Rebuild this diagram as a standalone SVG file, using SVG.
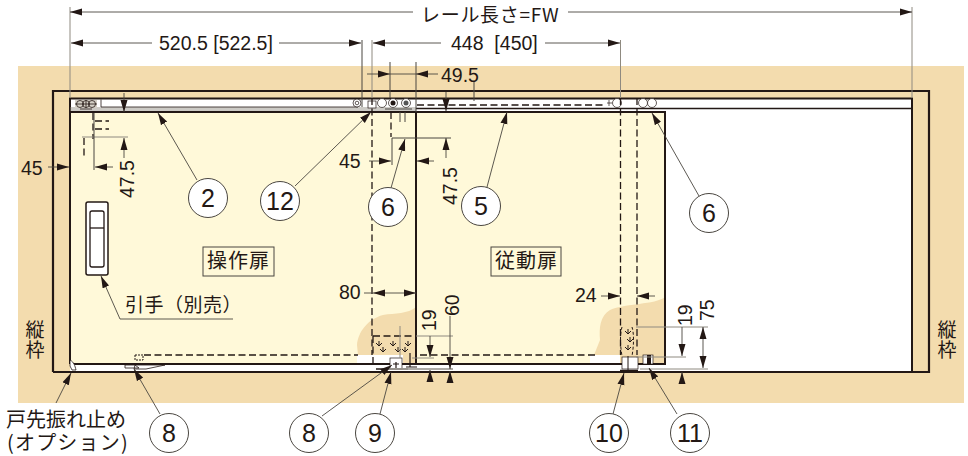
<svg xmlns="http://www.w3.org/2000/svg" width="968" height="456" viewBox="0 0 968 456">
<style>
text{font-family:"Liberation Sans","Noto Sans CJK JP",sans-serif;fill:#231815}
.t{font-size:19.500px}
.n{font-size:25px;text-anchor:middle}
.j{font-family:"Noto Sans CJK JP","Liberation Sans",sans-serif;font-size:20px}
.v{font-size:19px;writing-mode:vertical-rl;letter-spacing:1px}
.k{fill:none;stroke:#231815;stroke-width:2}
.d{fill:none;stroke:#231815;stroke-width:1.300;stroke-dasharray:7 3.500}
.g{fill:none;stroke:#8f8a80;stroke-width:1}
.e{fill:none;stroke:#4a4640;stroke-width:1}
.a{fill:none;stroke:#4a4640;stroke-width:.9}
.c{fill:#fff;stroke:#4a4640;stroke-width:1}
.o{fill:#fff;stroke:#231815;stroke-width:.7}
.s{fill:#f3dcae}
</style>
<defs>
<marker id="ah" markerUnits="userSpaceOnUse" markerWidth="13" markerHeight="8" refX="12" refY="4" orient="auto-start-reverse"><path d="M0 .5L12 4L0 7.500z" fill="#231815"/></marker>
</defs>
<g id="background">
<rect x="18" y="66" width="946" height="337" fill="#f3dcae"/>
<rect x="70" y="98" width="842" height="273" fill="#fff"/>
</g>
<g id="door-left">
<path d="M70 112H416V364H70z" fill="#fff9d9"/>
<path class="s" d="M416 307C408 314 395 313 383 315C368 319 358 332 357 345L358 355H416z"/>
<rect x="357" y="355" width="46" height="9" fill="#fff"/>
<rect class="s" x="403" y="355" width="13" height="9"/>
<path class="k" d="M70 364V112H416V364H70"/>
<text class="j" x="207" y="268" style="letter-spacing:1px">操作扉</text>
<rect x="203" y="247" width="71" height="29" fill="none" stroke="#4a4640" stroke-width="1"/>
</g>
<g id="door-right">
<path d="M416 112H665V364H416z" fill="#fff9d9"/>
<path class="s" d="M665 297C655 305 625 303 610 310C600 316 599 328 600 340L594 355H665z"/>
<rect x="590" y="355" width="30" height="9" fill="#fff"/>
<rect class="s" x="620" y="355" width="45" height="9"/>
<path class="k" d="M416 364V112H665V364H416"/>
<text class="j" x="495" y="268" style="letter-spacing:1px">従動扉</text>
<rect x="491" y="247" width="70" height="29" fill="none" stroke="#4a4640" stroke-width="1"/>
</g>
<g id="frame">
<path d="M53 372V91H929V372H53" fill="none" stroke="#231815" stroke-width="2.200"/>
<path d="M70 364V98.500H912V372" class="k"/>
<path d="M416 108.500H912" stroke="#231815" stroke-width="1.500" fill="none"/>
<path d="M70 108H416M70 110H416" stroke="#8f8a80" stroke-width=".9" fill="none"/>
</g>
<g id="handle">
<rect x="86" y="202" width="22" height="73" rx="2" fill="#fff" stroke="#231815" stroke-width="1.500"/>
<rect x="90" y="211" width="14" height="56" rx="2" fill="#fff" stroke="#231815" stroke-width="1.300"/>
<path d="M90 228H104" stroke="#231815" stroke-width="1.300"/>
</g>
<g id="hardware">
<rect x="75" y="100" width="22" height="8" fill="#d6d2c8"/>
<g fill="none" stroke="#231815" stroke-width=".8"><circle cx="80" cy="104" r="3.500"/><circle cx="86" cy="104" r="3.500"/><circle cx="92" cy="104" r="3.500"/><path d="M75 104H97M86 100V108M80 109H92"/></g>
<path d="M101 99.500V107H358" fill="none" stroke="#231815" stroke-width=".8"/>
<circle class="o" cx="357" cy="103" r="4"/><circle class="o" cx="357" cy="103" r="1.800"/>
<rect class="o" x="368" y="101" width="8" height="7"/>
<circle class="o" cx="382" cy="103" r="4.500"/>
<circle class="o" cx="393" cy="103" r="4.500"/><circle cx="393" cy="103" r="2.500" fill="#231815"/>
<circle class="o" cx="406" cy="103" r="4.500"/><circle cx="406" cy="103" r="2.500" fill="#555"/>
<circle class="o" cx="617" cy="103" r="4.500"/>
<circle class="o" cx="643" cy="103" r="4.500"/>
<circle class="o" cx="652" cy="103" r="4.500"/>
<path d="M607 103h5M609 100v6" stroke="#231815" stroke-width=".7"/>
<path class="d" d="M417 105H603"/>
<path class="d" stroke-dasharray="4 2" d="M93 113V139M95 121H109M95 129H109M84 138V156"/>
<path class="d" d="M391 112V137"/>
<path class="e" d="M400 112V122M405 112V122M385 109H412"/>
<path class="d" d="M372 98V355M620.500 98V355M637 98V355"/>
<path class="d" d="M144 355H358M420 355H595"/>
<path class="d" d="M373 336H416" stroke-width="1.600"/>
<path class="d" d="M373 336V365"/>
<path fill="none" stroke="#231815" stroke-width="1" d="M379 341v5m-3-3l3 3 3-3M383 347v5m-3-3l3 3 3-3M393 341v5m-3-3l3 3 3-3M398 347v5m-3-3l3 3 3-3M408 341v5m-3-3l3 3 3-3M405 347v5m-3-3l3 3 3-3"/>
<rect class="o" x="390" y="358" width="12" height="11"/>
<path d="M393 364h6M396 362v6M410 353V367H417M406 367H416" fill="none" stroke="#231815" stroke-width="1.200"/>
<path d="M376 369H408" stroke="#231815" stroke-width="1.500"/>
<path d="M385 369H453" stroke="#bbb" stroke-width="1.500"/>
<path d="M135 355h8v5h-8z" fill="none" stroke="#231815" stroke-width="1" stroke-dasharray="2 1"/>
<path d="M125 365h10l4 3h-14zM135 365H165L146 369H134z" fill="#fff" stroke="#231815" stroke-width=".8"/>
<path d="M70 366V360C74 362 75 366 76 370H72z" fill="#fff" stroke="#231815" stroke-width=".8"/>
<path fill="none" stroke="#231815" stroke-width="1" stroke-dasharray="3 2" d="M622 327C620 333 620 345 622 356M632 327C634 333 634 345 632 356"/>
<path fill="none" stroke="#231815" stroke-width="1" d="M628 329v5m-3-3l3 3 3-3M630 337v5m-3-3l3 3 3-3M628 345v5m-3-3l3 3 3-3"/>
<rect class="o" x="622" y="357" width="16" height="12"/>
<rect class="o" x="643" y="355" width="10" height="9"/>
<rect x="647" y="355" width="4" height="9" fill="#231815"/>
<path d="M628 356V372" stroke="#231815" stroke-width="1"/>
<path d="M620 370.500H638" stroke="#231815" stroke-width="1.500"/>
</g>
<g id="connectors">
<path class="g" d="M70 7V98M372 40V98M620.500 40V98M912 7V98"/>
<path class="e" d="M362 40V107M390 62V98M416 62V112"/>
<path class="a" marker-start="url(#ah)" d="M70 12H413"/>
<path class="a" marker-end="url(#ah)" d="M568 12H912"/>
<path class="a" marker-start="url(#ah)" d="M71 43H152"/>
<path class="a" marker-end="url(#ah)" d="M279 43H361"/>
<path class="a" marker-start="url(#ah)" d="M373 43H441"/>
<path class="a" marker-end="url(#ah)" d="M545 43H620"/>
<path class="a" marker-end="url(#ah)" d="M367 74H390"/>
<path class="a" d="M390 74H416"/>
<path class="a" marker-start="url(#ah)" d="M416 74H438"/>
<path class="e" d="M474 82V101"/>
<path class="a" marker-end="url(#ah)" d="M124 93V112"/>
<path class="a" marker-start="url(#ah)" d="M124 138V158"/>
<path class="g" d="M82 137H128"/>
<path class="e" d="M94 113V170"/>
<path class="a" marker-end="url(#ah)" d="M48 167H69"/>
<path class="a" marker-start="url(#ah)" d="M95 167H113"/>
<path class="a" marker-end="url(#ah)" d="M446 92V111"/>
<path class="a" marker-start="url(#ah)" d="M446 138V158"/>
<path class="e" d="M392 138H451"/>
<path class="e" d="M392 138V165"/>
<path class="a" marker-end="url(#ah)" d="M369 161H391"/>
<path class="a" marker-start="url(#ah)" d="M417 161H434"/>
<path class="a" d="M364 293H373"/>
<path class="a" marker-start="url(#ah)" marker-end="url(#ah)" d="M373 293H416"/>
<path class="a" marker-end="url(#ah)" d="M601 296H620"/>
<path class="a" marker-start="url(#ah)" d="M637 296H655"/>
<path class="g" d="M400 326V358M416 336H453M412 358H434M385 369H453"/>
<path class="g" d="M636 327H708M636 357H686M640 369H708"/>
<path class="a" marker-end="url(#ah)" d="M430 336V357"/>
<path class="a" marker-start="url(#ah)" d="M430 370V382"/>
<path class="a" marker-end="url(#ah)" d="M450 316V369"/>
<path class="a" marker-start="url(#ah)" d="M450 371V382"/>
<path class="a" marker-end="url(#ah)" d="M682 327V356"/>
<path class="a" marker-start="url(#ah)" d="M682 372V382"/>
<path class="a" marker-start="url(#ah)" marker-end="url(#ah)" d="M703 327V368"/>
<path class="a" marker-end="url(#ah)" d="M197 180L158 113"/>
<path class="a" marker-end="url(#ah)" d="M295 186L371 112"/>
<path class="a" marker-end="url(#ah)" d="M391 188L405 139"/>
<path class="a" marker-end="url(#ah)" d="M487 187L507 112"/>
<path class="a" marker-end="url(#ah)" d="M699 196L652 113"/>
<path class="a" marker-end="url(#ah)" d="M233 319H120L101 276"/>
<path class="a" marker-end="url(#ah)" d="M56 403L71 373"/>
<path class="a" marker-end="url(#ah)" d="M160 414L134 369"/>
<path class="a" marker-end="url(#ah)" d="M322 416L392 365"/>
<path class="a" marker-end="url(#ah)" d="M380 414L391 372"/>
<path class="a" marker-end="url(#ah)" d="M613 414L624 373"/>
<path class="a" marker-end="url(#ah)" d="M677 414L649 368"/>
</g>
<g id="labels">
<text class="j" x="421" y="22" style="font-size:19px;letter-spacing:.7px">レール長さ=FW</text>
<text class="t" x="159" y="50">520.5 [522.5]</text>
<text class="t" x="451" y="50">448 &#160;[450]</text>
<text class="t" x="441" y="82">49.5</text>
<text class="t" x="21" y="175">45</text>
<text class="t" x="339" y="168">45</text>
<text class="t" transform="translate(134 198) rotate(-90)">47.5</text>
<text class="t" transform="translate(457 205) rotate(-90)">47.5</text>
<text class="t" x="339" y="299">80</text>
<text class="t" x="575" y="302">24</text>
<text class="t" transform="translate(436 331) rotate(-90)">19</text>
<text class="t" transform="translate(459 316) rotate(-90)">60</text>
<text class="t" transform="translate(692 326) rotate(-90)">19</text>
<text class="t" transform="translate(714 321) rotate(-90)">75</text>
<text class="j" x="125" y="312" style="font-size:19px;letter-spacing:.5px">引手（別売）</text>
<text class="j v" x="35" y="320">縦枠</text>
<text class="j v" x="947" y="320">縦枠</text>
<text class="j" x="6" y="427">戸先振れ止め<tspan x="7" y="450" style="letter-spacing:1.200px">(オプション)</tspan></text>
</g>
<g id="n2"><circle class="c" cx="208" cy="198" r="19.500"/><text class="n" x="208" y="207">2</text></g>
<g id="n12"><circle class="c" cx="280" cy="201" r="19.500"/><text class="n" x="280" y="210">12</text></g>
<g id="n6a"><circle class="c" cx="388" cy="207" r="19.500"/><text class="n" x="388" y="216">6</text></g>
<g id="n5"><circle class="c" cx="481" cy="206" r="19.500"/><text class="n" x="481" y="215">5</text></g>
<g id="n6b"><circle class="c" cx="709" cy="213" r="19.500"/><text class="n" x="709" y="222">6</text></g>
<g id="n8a"><circle class="c" cx="169" cy="433" r="19.500"/><text class="n" x="169" y="442">8</text></g>
<g id="n8b"><circle class="c" cx="309" cy="433" r="19.500"/><text class="n" x="309" y="442">8</text></g>
<g id="n9"><circle class="c" cx="375" cy="433" r="19.500"/><text class="n" x="375" y="442">9</text></g>
<g id="n10"><circle class="c" cx="609" cy="433" r="19.500"/><text class="n" x="609" y="442">10</text></g>
<g id="n11"><circle class="c" cx="690" cy="433" r="19.500"/><text class="n" x="690" y="442">11</text></g>
</svg>
